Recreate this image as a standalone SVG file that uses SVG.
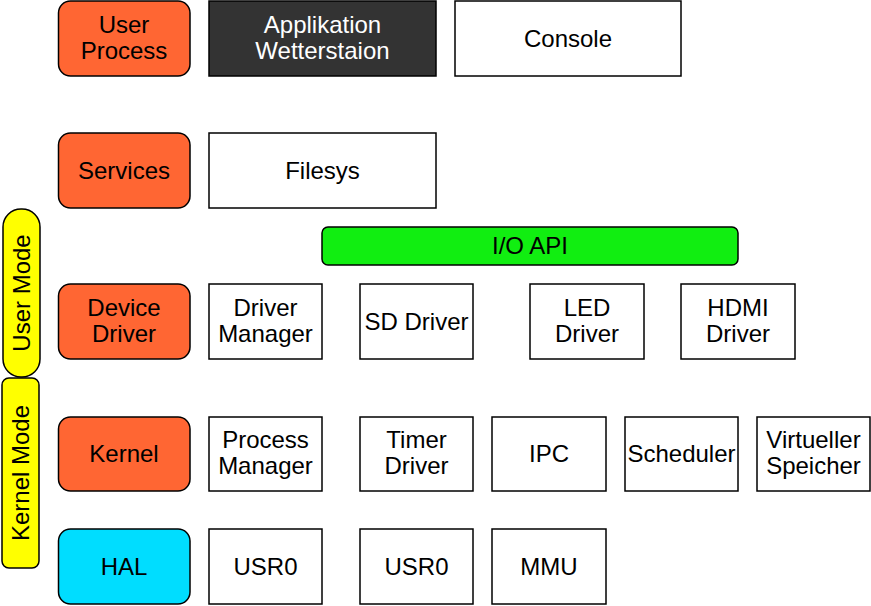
<svg xmlns="http://www.w3.org/2000/svg" width="871" height="606" viewBox="0 0 871 606">
<style>
text{font-family:"Liberation Sans",Arial,sans-serif;font-size:24px;fill:#000;text-anchor:middle}
.box{fill:#fff;stroke:#000;stroke-width:1.5}
.lay{fill:#ff6633;stroke:#000;stroke-width:1.5}
.hal{fill:#00ddff;stroke:#000;stroke-width:1.5}
.dark{fill:#333;stroke:#000;stroke-width:1.5}
.api{fill:#11ee11;stroke:#000;stroke-width:1.5}
.mode{fill:#ffff00;stroke:#000;stroke-width:1.5}
.w{fill:#fff}
</style>
<rect width="871" height="606" fill="#fff"/>
<g id="user-mode"><rect class="mode" x="3" y="209" width="37" height="168" rx="18" ry="18"/><text transform="translate(30,293) rotate(-90)">User Mode</text></g>
<g id="kernel-mode"><rect class="mode" x="2" y="378" width="37" height="190" rx="7" ry="7"/><text transform="translate(29,473) rotate(-90)">Kernel Mode</text></g>

<g id="user-process"><rect class="lay" x="58.5" y="1" width="131.5" height="75" rx="12"/><text x="124" y="33">User</text><text x="124" y="59">Process</text></g>
<g id="applikation"><rect class="dark" x="209" y="1" width="227" height="75"/><text class="w" x="322.5" y="33">Applikation</text><text class="w" x="322.5" y="59">Wetterstaion</text></g>
<g id="console"><rect class="box" x="455" y="1" width="226" height="75"/><text x="568" y="47">Console</text></g>

<g id="services"><rect class="lay" x="58.5" y="133" width="131.5" height="75" rx="12"/><text x="124" y="179">Services</text></g>
<g id="filesys"><rect class="box" x="209" y="133" width="227" height="75"/><text x="322.5" y="179">Filesys</text></g>

<g id="io-api"><rect class="api" x="322" y="227" width="416" height="38" rx="6"/><text x="530" y="254">I/O API</text></g>

<g id="device-driver"><rect class="lay" x="58.5" y="284" width="131.5" height="75" rx="12"/><text x="124" y="316">Device</text><text x="124" y="342">Driver</text></g>
<g id="driver-manager"><rect class="box" x="209" y="284" width="113" height="75"/><text x="265.5" y="316">Driver</text><text x="265.5" y="342">Manager</text></g>
<g id="sd-driver"><rect class="box" x="360" y="284" width="113" height="75"/><text x="416.5" y="330">SD Driver</text></g>
<g id="led-driver"><rect class="box" x="530" y="284" width="114" height="75"/><text x="587" y="316">LED</text><text x="587" y="342">Driver</text></g>
<g id="hdmi-driver"><rect class="box" x="681" y="284" width="114" height="75"/><text x="738" y="316">HDMI</text><text x="738" y="342">Driver</text></g>

<g id="kernel"><rect class="lay" x="58.5" y="417" width="131.5" height="74" rx="12"/><text x="124" y="462">Kernel</text></g>
<g id="process-manager"><rect class="box" x="209" y="417" width="113" height="74"/><text x="265.5" y="448">Process</text><text x="265.5" y="474">Manager</text></g>
<g id="timer-driver"><rect class="box" x="360" y="417" width="113" height="74"/><text x="416.5" y="448">Timer</text><text x="416.5" y="474">Driver</text></g>
<g id="ipc"><rect class="box" x="492" y="417" width="114" height="74"/><text x="549" y="462">IPC</text></g>
<g id="scheduler"><rect class="box" x="625" y="417" width="113" height="74"/><text x="681.5" y="462">Scheduler</text></g>
<g id="virtueller-speicher"><rect class="box" x="757" y="417" width="113" height="74"/><text x="813.5" y="448">Virtueller</text><text x="813.5" y="474">Speicher</text></g>

<g id="hal"><rect class="hal" x="58.5" y="529" width="131.5" height="75" rx="12"/><text x="124" y="575">HAL</text></g>
<g id="usr0-a"><rect class="box" x="209" y="529" width="113" height="75"/><text x="265.5" y="575">USR0</text></g>
<g id="usr0-b"><rect class="box" x="360" y="529" width="113" height="75"/><text x="416.5" y="575">USR0</text></g>
<g id="mmu"><rect class="box" x="492" y="529" width="114" height="75"/><text x="549" y="575">MMU</text></g>
<g id="connectors"></g>
</svg>
